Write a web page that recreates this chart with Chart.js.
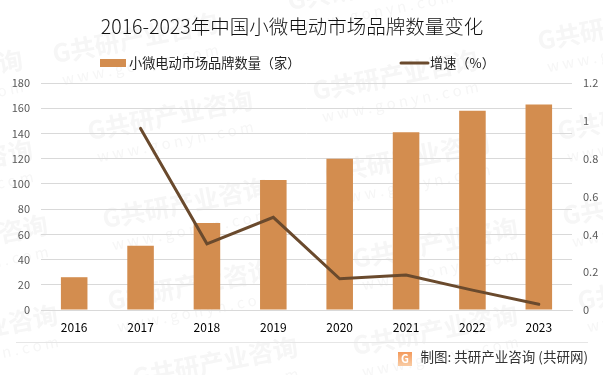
<!DOCTYPE html>
<html>
<head>
<meta charset="utf-8">
<script src="https://cdn.jsdelivr.net/npm/chart.js@4/dist/chart.umd.min.js"></script>
<style>
  html, body { margin: 0; padding: 0; background: #fff; }
  #wrap { width: 603px; height: 375px; }
</style>
</head>
<body>
<div id="wrap"><canvas id="brandChart"></canvas></div>
<script>
const years = ["2016", "2017", "2018", "2019", "2020", "2021", "2022", "2023"];
const brandCount = [26, 51, 69, 103, 120, 141, 158, 163];
const growthRate = [null, 0.96, 0.35, 0.49, 0.165, 0.185, 0.105, 0.03];
const titleText = "2016-2023年中国小微电动市场品牌数量变化";
const sourceText = "制图: 共研产业咨询 (共研网)";
const fontName = '"Noto Sans CJK SC", "Noto Sans", sans-serif';

// faint diagonal watermark, centre of each stamp
const stamps = [[135, 38], [170, 115], [395, 75], [620, 25], [185, 203], [190, 285],
  [435, 330], [435, 243], [407, 158], [215, 362], [-60, 75], [-50, 165], [-35, 240],
  [-25, 330], [640, 115], [645, 200], [660, 285], [370, -15]];

const pagePlugin = {
  id: "pagePlugin",
  beforeDraw(chart) {
    const ctx = chart.ctx;
    ctx.save();
    ctx.fillStyle = "#fff";
    ctx.fillRect(0, 0, chart.width, chart.height);
    stamps.forEach(([x, y]) => {
      ctx.save();
      ctx.translate(x, y);
      ctx.rotate(-11 * Math.PI / 180);
      ctx.textAlign = "center";
      ctx.textBaseline = "middle";
      ctx.fillStyle = "#f6f6f6";
      ctx.font = "bold 25px " + fontName;
      ctx.fillText("G共研产业咨询", 0, 0);
      ctx.font = "15px " + fontName;
      ctx.fillText("w w w . g o n y n . c o m", 0, 27);
      ctx.restore();
    });
    ctx.restore();
  },
  afterDraw(chart) {
    const ctx = chart.ctx;
    const sets = chart.data.datasets;
    ctx.save();
    ctx.textBaseline = "middle";

    ctx.fillStyle = "#111";
    ctx.font = "300 19.5px " + fontName;
    ctx.textAlign = "center";
    ctx.fillText(titleText, 292, 27);

    // legend row
    ctx.textAlign = "left";
    ctx.font = "13.2px " + fontName;
    ctx.fillStyle = sets[0].backgroundColor;
    ctx.fillRect(100, 59, 26, 8);
    ctx.fillStyle = "#222";
    ctx.fillText(sets[0].label, 129, 63);
    ctx.strokeStyle = sets[1].borderColor;
    ctx.lineWidth = 3;
    ctx.lineCap = "round";
    ctx.beginPath();
    ctx.moveTo(401, 63);
    ctx.lineTo(428, 63);
    ctx.stroke();
    ctx.fillText(sets[1].label, 430, 63);

    // footer rule and source line
    ctx.strokeStyle = "#e6e6e6";
    ctx.lineWidth = 1;
    ctx.lineCap = "butt";
    ctx.beginPath();
    ctx.moveTo(16, 342.5);
    ctx.lineTo(588, 342.5);
    ctx.stroke();

    const logo = ctx.createLinearGradient(0, 352, 0, 365);
    logo.addColorStop(0, "#f39a5c");
    logo.addColorStop(1, "#f9c9a0");
    ctx.fillStyle = logo;
    ctx.fillRect(398, 352, 14, 14);
    ctx.fillStyle = "#fff";
    ctx.font = "bold 11px " + fontName;
    ctx.textAlign = "center";
    ctx.fillText("G", 405, 359);

    ctx.fillStyle = "#333";
    ctx.font = "13.5px " + fontName;
    ctx.textAlign = "right";
    ctx.fillText(sourceText, 588, 357);
    ctx.restore();
  }
};

new Chart(document.getElementById("brandChart"), {
  data: {
    labels: years,
    datasets: [
      {
        type: "bar",
        label: "小微电动市场品牌数量（家）",
        data: brandCount,
        backgroundColor: "#d38d4f",
        barPercentage: 0.8,
        categoryPercentage: 0.5,
        yAxisID: "y",
        order: 2
      },
      {
        type: "line",
        label: "增速（%）",
        data: growthRate,
        borderColor: "#6a4a2d",
        backgroundColor: "#6a4a2d",
        borderWidth: 3,
        borderCapStyle: "round",
        pointRadius: 0,
        tension: 0,
        yAxisID: "y1",
        order: 1
      }
    ]
  },
  options: {
    responsive: true,
    maintainAspectRatio: false,
    animation: false,
    layout: { padding: { top: 83, right: 0, bottom: 0, left: 0 } },
    plugins: {
      title: { display: false },
      tooltip: { enabled: false },
      legend: { display: false }
    },
    scales: {
      x: {
        afterFit(axis) { axis.height = 65; },
        grid: { display: false, drawTicks: false },
        border: { color: "#d9d9d9" },
        ticks: { color: "#000", padding: 10, font: { family: fontName, size: 12 } }
      },
      y: {
        position: "left",
        min: 0,
        max: 180,
        afterFit(axis) { axis.width = 41; },
        ticks: { stepSize: 20, autoSkip: false, color: "#595959", padding: 11, font: { family: fontName, size: 11 } },
        grid: { color: "#d9d9d9", drawTicks: false },
        border: { display: false }
      },
      y1: {
        position: "right",
        min: 0,
        max: 1.2,
        afterFit(axis) { axis.width = 31; },
        ticks: {
          stepSize: 0.2,
          autoSkip: false,
          color: "#595959",
          padding: 11,
          font: { family: fontName, size: 11 },
          callback: (v) => String(Number(v.toFixed(1)))
        },
        grid: { display: false, drawTicks: false },
        border: { display: false }
      }
    }
  },
  plugins: [pagePlugin]
});
</script>
</body>
</html>
